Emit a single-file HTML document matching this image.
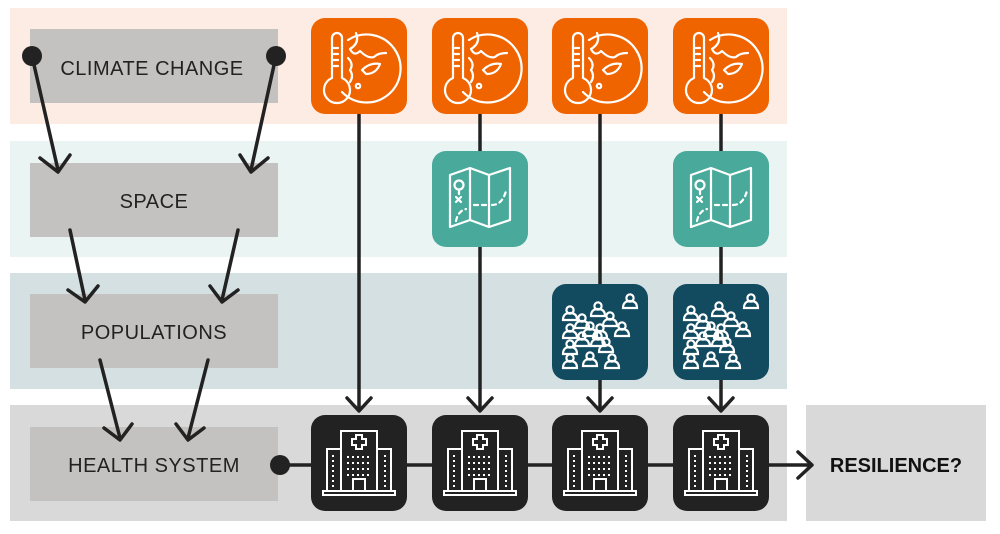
<!DOCTYPE html>
<html><head><meta charset="utf-8"><style>
html,body{margin:0;padding:0;background:#fff}
svg{display:block}
text{font-family:"Liberation Sans",sans-serif}
</style></head><body>
<svg width="1000" height="534" viewBox="0 0 1000 534" xmlns="http://www.w3.org/2000/svg">
<defs>
<g id="globe" fill="none" stroke="#fff" stroke-width="2.2" stroke-linecap="round" stroke-linejoin="round">
  <path d="M-30,-28 a5,5 0 0 1 10,0 v40 a13,13 0 1 1 -10,0 z"/>
  <path d="M-28,-18h4M-28,-12h4M-28,-6h4M-28,0h4"/>
  <path d="M-14,-26 A34,34 0 1 1 -20,26"/>
  <path d="M-6,-33 q4,10 -6,16 q4,8 10,2 q8,8 14,6 q4,-4 12,-4"/>
  <path d="M-14,-8 q6,6 2,12 q4,6 0,12"/>
  <path d="M0,4 q8,-8 18,-6 q-4,10 -14,10 z"/>
  <circle cx="-4" cy="20" r="2.2"/>
</g>
<g id="map" fill="none" stroke="#fff" stroke-width="2.2" stroke-linejoin="round" stroke-linecap="round">
  <path d="M-30,-24 l20,-7 l19,7 l21,-7 v52 l-21,7 l-19,-7 l-20,7 z M-10,-31 v52 M9,-24 v52"/>
  <circle cx="-21" cy="-14" r="4.5"/>
  <path d="M-21,-9 v4 M-24,-2 l5,5 M-19,-2 l-5,5"/>
  <path d="M-24,22 q2,-10 10,-12 M-6,6 h12 M12,6 q10,0 14,-14" stroke-dasharray="4 4"/>
</g>
<g id="people" fill="none" stroke="#fff" stroke-width="2.2">
  <g id="p"><circle cx="0" cy="-4" r="3.6"/><path d="M-7,6 q0,-7 7,-7 q7,0 7,7 z"/></g>
  <use href="#p" x="-30" y="-18"/><use href="#p" x="-2" y="-22"/><use href="#p" x="30" y="-30"/>
  <use href="#p" x="-18" y="-10"/><use href="#p" x="10" y="-12"/>
  <use href="#p" x="-30" y="0"/><use href="#p" x="-10" y="-2"/><use href="#p" x="22" y="-2"/>
  <use href="#p" x="-30" y="16"/><use href="#p" x="-18" y="8"/><use href="#p" x="-2" y="8"/><use href="#p" x="6" y="14"/>
  <use href="#p" x="-30" y="30"/><use href="#p" x="-10" y="28"/><use href="#p" x="12" y="30"/>
</g>
<g id="hosp" fill="none" stroke="#fff" stroke-width="2">
  <rect x="-18" y="-32" width="36" height="60"/>
  <rect x="-32" y="-14" width="14" height="42"/><rect x="18" y="-14" width="14" height="42"/>
  <path d="M-3,-28h6v4h4v6h-4v4h-6v-4h-4v-6h4z"/>
  <rect x="-6" y="16" width="12" height="12"/>
  <path d="M-36,28h72v4h-72z"/>
  <path d="M-12,-6h24M-12,0h24M-12,6h24M-12,12h24M-26,-8v32M26,-8v32" stroke-dasharray="2 3"/>
</g>
</defs>
<rect x="10" y="8" width="777" height="116" fill="#fdece3"/>
<rect x="10" y="141" width="777" height="116" fill="#eaf4f2"/>
<rect x="10" y="273" width="777" height="116" fill="#d4e0e2"/>
<rect x="10" y="405" width="777" height="116" fill="#d9d9d9"/>
<rect x="806" y="405" width="180" height="116" fill="#d9d9d9"/>
<g fill="#c4c2c0">
<rect x="30" y="29" width="248" height="74"/><rect x="30" y="163" width="248" height="74"/>
<rect x="30" y="294" width="248" height="74"/><rect x="30" y="427" width="248" height="74"/>
</g>
<g font-size="20" fill="#222" text-anchor="middle" letter-spacing="0.5">
<text x="152" y="75">CLIMATE CHANGE</text>
<text x="154" y="208">SPACE</text>
<text x="154" y="339">POPULATIONS</text>
<text x="154" y="472">HEALTH SYSTEM</text>
</g>
<text x="896" y="472" font-size="20" font-weight="bold" fill="#111" text-anchor="middle">RESILIENCE?</text>
<g stroke="#222" stroke-width="3.5" fill="none" stroke-linecap="round" stroke-linejoin="round">
<path d="M32,56 L58,170 M40,158 L58,172 L70,155"/>
<path d="M276,56 L251,170 M240,155 L251,172 L268,158"/>
<path d="M70,230 L85,300 M68,290 L85,302 L98,286"/>
<path d="M238,230 L222,300 M210,286 L222,302 L238,290"/>
<path d="M100,360 L120,438 M104,428 L120,440 L132,424"/>
<path d="M208,360 L188,438 M176,424 L188,440 L204,428"/>
<path d="M280,465 H810 M798,452 L812,465 L798,478"/>
<path d="M359,110 V410 M347,398 L359,411 L371,398"/>
<path d="M480,110 V410 M468,398 L480,411 L492,398"/>
<path d="M600,110 V410 M588,398 L600,411 L612,398"/>
<path d="M721,110 V410 M709,398 L721,411 L733,398"/>
</g>
<circle cx="32" cy="56" r="10" fill="#222"/><circle cx="276" cy="56" r="10" fill="#222"/>
<circle cx="280" cy="465" r="10" fill="#222"/>
<g fill="#f06400">
<rect x="311" y="18" width="96" height="96" rx="14"/><rect x="432" y="18" width="96" height="96" rx="14"/>
<rect x="552" y="18" width="96" height="96" rx="14"/><rect x="673" y="18" width="96" height="96" rx="14"/>
</g>
<use href="#globe" x="362" y="66"/><use href="#globe" x="483" y="66"/><use href="#globe" x="603" y="66"/><use href="#globe" x="724" y="66"/>
<g fill="#49aa9c"><rect x="432" y="151" width="96" height="96" rx="14"/><rect x="673" y="151" width="96" height="96" rx="14"/></g>
<use href="#map" x="480" y="199"/><use href="#map" x="721" y="199"/>
<g fill="#124a5f"><rect x="552" y="284" width="96" height="96" rx="14"/><rect x="673" y="284" width="96" height="96" rx="14"/></g>
<use href="#people" x="600" y="332"/><use href="#people" x="721" y="332"/>
<g fill="#222">
<rect x="311" y="415" width="96" height="96" rx="14"/><rect x="432" y="415" width="96" height="96" rx="14"/>
<rect x="552" y="415" width="96" height="96" rx="14"/><rect x="673" y="415" width="96" height="96" rx="14"/>
</g>
<use href="#hosp" x="359" y="463"/><use href="#hosp" x="480" y="463"/><use href="#hosp" x="600" y="463"/><use href="#hosp" x="721" y="463"/>
</svg>
</body></html>
